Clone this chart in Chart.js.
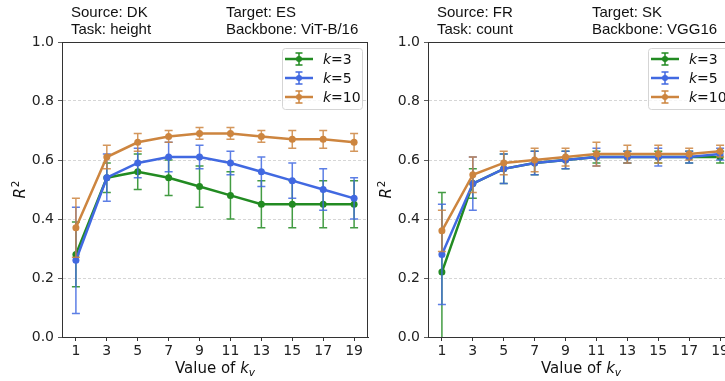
<!DOCTYPE html>
<html>
<head>
<meta charset="utf-8">
<script src="https://cdn.jsdelivr.net/npm/chart.js@4.4.0/dist/chart.umd.min.js"></script>
<style>
  html, body { margin: 0; padding: 0; background: #fff; }
  #wrap { position: relative; width: 725px; height: 381px; overflow: hidden; background: #fff; }
  canvas { position: absolute; top: 0; }
  #left-chart { left: 0; }
  #right-chart { left: 366px; }
</style>
</head>
<body>
<div id="wrap">
  <canvas id="left-chart" width="372" height="381"></canvas>
  <canvas id="right-chart" width="372" height="381"></canvas>
</div>
<script>
// x values (k_v) and y ticks
const kvValues = [1, 3, 5, 7, 9, 11, 13, 15, 17, 19]
const yTicks = [0, 0.2, 0.4, 0.6, 0.8, 1.0]

const seriesNames = ["3", "5", "10"]
const seriesColors = ["#228b22", "#4169e1", "#cd853f"]

// Source DK -> Target ES, ViT-B/16, height
const dkK3 = [0.28, 0.54, 0.56, 0.54, 0.51, 0.48, 0.45, 0.45, 0.45, 0.45]
const dkK3Err = [0.11, 0.05, 0.06, 0.06, 0.07, 0.08, 0.08, 0.08, 0.08, 0.08]
const dkK5 = [0.26, 0.54, 0.59, 0.61, 0.61, 0.59, 0.56, 0.53, 0.50, 0.47]
const dkK5Err = [0.18, 0.08, 0.05, 0.05, 0.04, 0.04, 0.05, 0.06, 0.07, 0.07]
const dkK10 = [0.37, 0.61, 0.66, 0.68, 0.69, 0.69, 0.68, 0.67, 0.67, 0.66]
const dkK10Err = [0.10, 0.04, 0.03, 0.02, 0.02, 0.02, 0.02, 0.03, 0.03, 0.03]

// Source FR -> Target SK, VGG16, count
const frK3 = [0.22, 0.52, 0.57, 0.59, 0.60, 0.61, 0.61, 0.61, 0.61, 0.61]
const frK3Err = [0.27, 0.05, 0.05, 0.04, 0.03, 0.02, 0.02, 0.02, 0.02, 0.02]
const frK5 = [0.28, 0.52, 0.57, 0.59, 0.60, 0.61, 0.61, 0.61, 0.61, 0.62]
const frK5Err = [0.17, 0.09, 0.05, 0.04, 0.03, 0.03, 0.02, 0.03, 0.02, 0.02]
const frK10 = [0.36, 0.55, 0.59, 0.60, 0.61, 0.62, 0.62, 0.62, 0.62, 0.63]
const frK10Err = [0.07, 0.06, 0.04, 0.04, 0.03, 0.04, 0.03, 0.03, 0.02, 0.02]

const tickFont = { family: "DejaVu Sans", size: 14 }

const drawErrorBar = (ctx, x, yTop, yBottom, cap) => {
    ctx.beginPath()
    ctx.moveTo(x, yTop)
    ctx.lineTo(x, yBottom)
    ctx.moveTo(x - cap, yTop)
    ctx.lineTo(x + cap, yTop)
    ctx.moveTo(x - cap, yBottom)
    ctx.lineTo(x + cap, yBottom)
    ctx.stroke()
}

// error bars, spines, headers, axis titles and legend
const panelPlugin = {
    id: "panel",
    beforeDatasetsDraw(chart) {
        const { ctx, chartArea } = chart
        ctx.save()
        ctx.strokeStyle = "#333"
        ctx.lineWidth = 1
        ctx.beginPath()
        ctx.moveTo(chartArea.left, chartArea.top + 0.5)
        ctx.lineTo(chartArea.right, chartArea.top + 0.5)
        ctx.moveTo(chartArea.right - 0.5, chartArea.top)
        ctx.lineTo(chartArea.right - 0.5, chartArea.bottom)
        ctx.stroke()
        ctx.restore()
    },
    afterDatasetDraw(chart, args) {
        const { ctx, chartArea } = chart
        const ds = chart.data.datasets[args.index]
        const yScale = chart.scales.y
        ctx.save()
        ctx.beginPath()
        ctx.rect(chartArea.left, chartArea.top, chartArea.right - chartArea.left, chartArea.bottom - chartArea.top)
        ctx.clip()
        ctx.strokeStyle = ds.borderColor
        ctx.globalAlpha = 0.85
        ctx.lineWidth = 1.5
        args.meta.data.forEach((pt, j) => {
            const v = ds.data[j].y
            const e = ds.errors[j]
            drawErrorBar(ctx, pt.x, yScale.getPixelForValue(v + e), yScale.getPixelForValue(v - e), 4)
        })
        ctx.restore()
    },
    afterDraw(chart, args, opts) {
        const { ctx, chartArea } = chart
        ctx.save()
        ctx.fillStyle = "#111"
        ctx.textBaseline = "alphabetic"

        // header lines
        ctx.font = "15px 'Liberation Sans', Arial, sans-serif"
        ctx.textAlign = "left"
        ctx.fillText(opts.lines[0], chartArea.left + 9, 16.5)
        ctx.fillText(opts.lines[1], chartArea.left + 9, 33.5)
        ctx.fillText(opts.lines[2], chartArea.left + 164, 16.5)
        ctx.fillText(opts.lines[3], chartArea.left + 164, 33.5)

        // y title: R^2
        ctx.save()
        ctx.translate(20, (chartArea.top + chartArea.bottom) / 2)
        ctx.rotate(-Math.PI / 2)
        ctx.font = "italic 15px 'DejaVu Sans'"
        const rw = ctx.measureText("R").width
        ctx.font = "10.5px 'DejaVu Sans'"
        const sw = ctx.measureText("2").width
        const x0 = -(rw + sw + 1) / 2
        ctx.font = "italic 15px 'DejaVu Sans'"
        ctx.fillText("R", x0, 5)
        ctx.font = "10.5px 'DejaVu Sans'"
        ctx.fillText("2", x0 + rw + 1, -1.5)
        ctx.restore()

        // x title: Value of k_v
        ctx.font = "15px 'DejaVu Sans'"
        const t1 = "Value of "
        const w1 = ctx.measureText(t1).width
        ctx.font = "italic 15px 'DejaVu Sans'"
        const w2 = ctx.measureText("k").width
        ctx.font = "italic 10.5px 'DejaVu Sans'"
        const w3 = ctx.measureText("v").width
        let xs = (chartArea.left + chartArea.right) / 2 - (w1 + w2 + w3) / 2
        const yb = 373
        ctx.font = "15px 'DejaVu Sans'"
        ctx.fillText(t1, xs, yb)
        ctx.font = "italic 15px 'DejaVu Sans'"
        ctx.fillText("k", xs + w1, yb)
        ctx.font = "italic 10.5px 'DejaVu Sans'"
        ctx.fillText("v", xs + w1 + w2, yb + 3)

        // legend
        const bw = 80, bh = 61
        const bx = chartArea.right - 6 - bw
        const by = chartArea.top + 6
        ctx.beginPath()
        ctx.roundRect(bx + 0.5, by + 0.5, bw, bh, 3)
        ctx.fillStyle = "rgba(255,255,255,0.8)"
        ctx.fill()
        ctx.strokeStyle = "#d5d5d5"
        ctx.lineWidth = 1
        ctx.stroke()
        seriesNames.forEach((name, i) => {
            const ry = by + 11 + i * 19
            const c = seriesColors[i]
            ctx.strokeStyle = c
            ctx.fillStyle = c
            ctx.lineWidth = 2.5
            ctx.beginPath()
            ctx.moveTo(bx + 3, ry)
            ctx.lineTo(bx + 31, ry)
            ctx.stroke()
            ctx.lineWidth = 1.5
            drawErrorBar(ctx, bx + 17, ry - 6, ry + 6, 3.5)
            ctx.beginPath()
            ctx.arc(bx + 17, ry, 3, 0, Math.PI * 2)
            ctx.fill()
            ctx.fillStyle = "#111"
            ctx.font = "italic 14px 'DejaVu Sans'"
            ctx.fillText("k", bx + 41, ry + 5)
            const kw = ctx.measureText("k").width
            ctx.font = "14px 'DejaVu Sans'"
            ctx.fillText("=" + name, bx + 41 + kw, ry + 5)
        })
        ctx.restore()
    }
}

const makeChart = (id, lines, values, errors) => {
    const datasets = values.map((vals, i) => ({
        label: "k=" + seriesNames[i],
        data: kvValues.map((x, j) => ({ x: x, y: vals[j] })),
        errors: errors[i],
        borderColor: seriesColors[i],
        backgroundColor: seriesColors[i],
        borderWidth: 2.5,
        pointRadius: 3.5,
        pointHoverRadius: 3.5,
        pointBorderWidth: 0,
        order: 3 - i,
    }))
    return new Chart(document.getElementById(id), {
        type: "line",
        data: { datasets: datasets },
        options: {
            responsive: false,
            animation: false,
            events: [],
            layout: { padding: { top: 42, right: 4, left: 0, bottom: 0 } },
            scales: {
                x: {
                    type: "linear",
                    min: 0.1,
                    max: 19.9,
                    afterBuildTicks: (s) => { s.ticks = kvValues.map(v => ({ value: v })) },
                    afterFit: (s) => { s.height = 44 },
                    grid: { drawOnChartArea: false, tickLength: 4, tickColor: "#333" },
                    border: { color: "#333", width: 1 },
                    ticks: { font: tickFont, color: "#222", padding: 2, maxRotation: 0, autoSkip: false },
                },
                y: {
                    min: 0,
                    max: 1,
                    afterBuildTicks: (s) => { s.ticks = yTicks.map(v => ({ value: v })) },
                    afterFit: (s) => { s.width = 62 },
                    grid: {
                        color: (c) => (c.tick && c.tick.value > 0.01 && c.tick.value < 0.99) ? "#cccccc" : "rgba(0,0,0,0)",
                        lineWidth: 0.8,
                        tickLength: 4,
                        tickColor: "#333",
                    },
                    border: { color: "#333", width: 1, dash: [3, 2] },
                    ticks: { font: tickFont, color: "#222", padding: 4, callback: (v) => Number(v).toFixed(1) },
                },
            },
            plugins: {
                legend: { display: false },
                tooltip: { enabled: false },
                panel: { lines: lines },
            },
        },
        plugins: [panelPlugin],
    })
}

makeChart("left-chart",
    ["Source: DK", "Task: height", "Target: ES", "Backbone: ViT-B/16"],
    [dkK3, dkK5, dkK10], [dkK3Err, dkK5Err, dkK10Err])

makeChart("right-chart",
    ["Source: FR", "Task: count", "Target: SK", "Backbone: VGG16"],
    [frK3, frK5, frK10], [frK3Err, frK5Err, frK10Err])
</script>
</body>
</html>
